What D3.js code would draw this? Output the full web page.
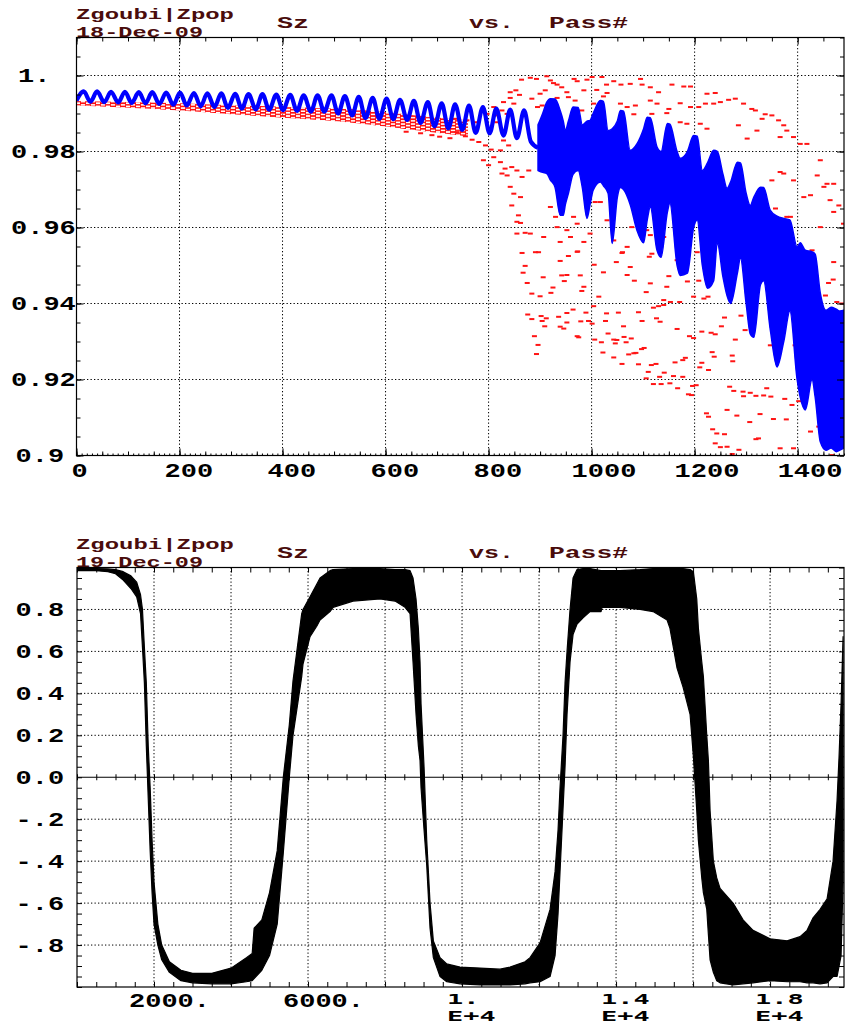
<!DOCTYPE html>
<html>
<head>
<meta charset="utf-8">
<script src="https://cdn.jsdelivr.net/npm/d3@7"></script>
<style>
  html, body { margin: 0; padding: 0; background: #fff; }
  svg { display: block; }
  text { font-family: "Liberation Mono", "Courier New", monospace; font-weight: bold; }
  text.stack { font-family: "DejaVu Sans Mono", "Liberation Mono", monospace; }
</style>
</head>
<body>
<svg id="chart" width="845" height="1028"></svg>
<script>
// ===================== data =====================

// --- upper panel: Sz vs Pass# (passes 0 .. 1490) ---
const topXTicks = [0, 200, 400, 600, 800, 1000, 1200, 1400];
const topXLabels = ["0", "200", "400", "600", "800", "1000", "1200", "1400"];
const topYTicks = [0.9, 0.92, 0.94, 0.96, 0.98, 1.0];
const topYLabels = ["0.9", "0.92", "0.94", "0.96", "0.98", "1."];

// tracked particle: regular spin oscillation, alternating troughs and crests
const wavePass = [0, 14, 27, 40, 54, 67, 81, 94, 107, 121, 134, 147, 161, 174, 188, 201, 214, 228, 241, 254,
  268, 281, 294, 308, 321, 334, 348, 361, 374, 388, 401, 415, 428, 441, 455, 468, 481, 495, 508, 521,
  535, 548, 561, 575, 588, 602, 615, 628, 642, 655, 668, 682, 695, 709, 722, 735, 749, 762, 775, 789,
  802, 815, 829, 842, 855, 869, 882];
const waveSz = [0.9934, 0.9958, 0.9931, 0.9958, 0.9930, 0.9957, 0.9929, 0.9957, 0.9928, 0.9956, 0.9927, 0.9956,
  0.9925, 0.9955, 0.9923, 0.9955, 0.9921, 0.9954, 0.9919, 0.9953, 0.9917, 0.9953, 0.9915, 0.9952, 0.9913,
  0.9951, 0.9911, 0.9951, 0.9910, 0.9950, 0.9909, 0.9949, 0.9907, 0.9948, 0.9905, 0.9948, 0.9905, 0.9948,
  0.9900, 0.9946, 0.9895, 0.9944, 0.9888, 0.9941, 0.9886, 0.9939, 0.9885, 0.9936, 0.9883, 0.9933, 0.9875,
  0.9930, 0.9866, 0.9927, 0.9861, 0.9924, 0.9857, 0.9921, 0.9849, 0.9917, 0.9848, 0.9913, 0.9842, 0.9910,
  0.9835, 0.9908, 0.9826];

// tracked particle after the resonance: fast oscillation band (upper / lower envelope)
const bandPass = [896, 905, 913, 920, 929, 939, 945, 949, 955, 964, 974, 982, 991, 997, 1003, 1017, 1023, 1032,
  1040, 1050, 1056, 1062, 1075, 1088, 1101, 1108, 1114, 1127, 1135, 1147, 1152, 1166, 1172, 1186, 1198,
  1205, 1215, 1225, 1237, 1244, 1255, 1263, 1270, 1283, 1289, 1300, 1308, 1315, 1328, 1334, 1347, 1360,
  1373, 1385, 1399, 1405, 1415, 1428, 1434, 1444, 1455, 1465, 1475, 1482, 1490];
const bandTop = [0.9870, 0.9900, 0.9930, 0.9939, 0.9938, 0.9908, 0.9880, 0.9855, 0.9880, 0.9917, 0.9916, 0.9870,
  0.9880, 0.9882, 0.9900, 0.9934, 0.9932, 0.9855, 0.9860, 0.9880, 0.9908, 0.9906, 0.9803, 0.9820, 0.9860,
  0.9890, 0.9889, 0.9812, 0.9800, 0.9874, 0.9872, 0.9800, 0.9782, 0.9800, 0.9842, 0.9840, 0.9750, 0.9770,
  0.9803, 0.9800, 0.9740, 0.9703, 0.9720, 0.9772, 0.9770, 0.9690, 0.9658, 0.9680, 0.9706, 0.9705, 0.9645,
  0.9630, 0.9624, 0.9620, 0.9549, 0.9560, 0.9540, 0.9536, 0.9530, 0.9427, 0.9382, 0.9390, 0.9385, 0.9380,
  0.9382];
const bandBottom = [0.9750, 0.9745, 0.9742, 0.9725, 0.9706, 0.9632, 0.9632, 0.9660, 0.9690, 0.9740, 0.9750, 0.9705,
  0.9624, 0.9660, 0.9698, 0.9720, 0.9710, 0.9690, 0.9558, 0.9680, 0.9705, 0.9700, 0.9660, 0.9593, 0.9560,
  0.9620, 0.9654, 0.9540, 0.9522, 0.9640, 0.9664, 0.9500, 0.9474, 0.9480, 0.9600, 0.9620, 0.9500, 0.9440,
  0.9460, 0.9560, 0.9470, 0.9420, 0.9400, 0.9480, 0.9520, 0.9400, 0.9320, 0.9311, 0.9450, 0.9460, 0.9330,
  0.9233, 0.9300, 0.9380, 0.9200, 0.9154, 0.9120, 0.9200, 0.9154, 0.9036, 0.9014, 0.9020, 0.9010, 0.9014,
  0.9020];

// particle ensemble: dense band of samples while the beam stays coherent
const cloudPass = [0, 100, 200, 300, 400, 480, 540, 600, 660, 720, 760];
const cloudTop = [0.9933, 0.9930, 0.9927, 0.9922, 0.9918, 0.9914, 0.9911, 0.9903, 0.9895, 0.9887, 0.9882];
const cloudBottom = [0.9921, 0.9915, 0.9908, 0.9898, 0.9889, 0.9882, 0.9875, 0.9866, 0.9856, 0.9846, 0.9840];

// particle ensemble: individual samples [pass, Sz] once the beam decoheres
const ensemble = [
  [864,.9989],[881,.9994],[893,.9991],[913,.9998],[920,.9987],[926,.9980],[933,.9976],[942,.9969],[952,.9956],
  [966,.9991],[972,.9985],[991,.9989],[1001,.9996],[1020,.9996],[1029,.9976],[1043,.9985],[1057,.9976],
  [1075,.9978],[1095,.9991],[1098,.9976],[1114,.9969],[1130,.9956],[1156,.9976],[1179,.9971],[1192,.9971],
  [1224,.9952],[1240,.9954],[853,.9961],[842,.9956],[860,.9949],[900,.9952],[910,.9961],[985,.9961],
  [1010,.9962],[1030,.9954],[829,.9930],[842,.9941],
  [810,.9917],[826,.9908],[836,.9899],[849,.9926],[884,.9939],[904,.9921],[895,.9917],[933,.9941],[955,.9943],
  [968,.9934],[981,.9908],[1004,.9926],[1023,.9945],[1056,.9926],[1069,.9917],[1085,.9921],[1114,.9934],
  [1127,.9926],[1150,.9912],[1172,.9927],[1192,.9917],[1208,.9917],[1221,.9926],[1237,.9926],[1250,.9930],
  [1266,.9936],[1279,.9939],[1295,.9926],[1311,.9912],[1318,.9908],[1331,.9886],[1337,.9898],[1350,.9895],
  [1363,.9882],[1373,.9869],[1117,.9899],[1082,.9898],[1146,.9901],[1172,.9877],[1185,.9873],[1211,.9873],
  [1224,.9860],[1285,.9869],[1302,.9834],[1321,.9855],[1366,.9838],[1379,.9855],[1392,.9838],[1405,.9820],
  [1418,.9820],[1444,.9777],[1438,.9737],[1457,.9715],[1451,.9707],[1470,.9715],[1480,.9658],[1470,.9641],
  [1489,.9610],
  [810,.9785],[823,.9772],[832,.9755],[845,.9759],[855,.9750],[865,.9733],[878,.9750],[826,.9742],[836,.9737],
  [842,.9707],[849,.9689],[845,.9658],[862,.9680],[858,.9632],[855,.9615],[862,.9612],[855,.9584],[871,.9586],
  [881,.9584],[865,.9533],[891,.9535],[897,.9535],[907,.9575],[920,.9654],[930,.9628],[933,.9601],[952,.9593],
  [965,.9628],[972,.9610],[939,.9562],[959,.9575],[972,.9536],[985,.9562],[997,.9584],[1007,.9667],
  [1017,.9667],[1030,.9619],[1043,.9566],[1059,.9533],[1069,.9549],[1078,.9601],[1088,.9654],[1101,.9628],
  [1107,.9593],[1114,.9580],[1140,.9575],[1120,.9785],[1127,.9772],[1140,.9790],[1153,.9768],[1166,.9750],
  [1179,.9759],[1192,.9764],[1205,.9750],[1208,.9707],[1218,.9693],[1237,.9737],[1237,.9707],[1250,.9698],
  [1253,.9610],[1256,.9597],[1273,.9628],[1279,.9593],[1295,.9523],[1328,.9531],[1357,.9650],[1350,.9724],
  [1366,.9746],[1373,.9742],[1379,.9628],[1386,.9628],[1392,.9724],[1412,.9680],[1425,.9685],[1444,.9601],
  [1463,.9672],[1428,.9540],[1470,.9509],
  [955,.9525],[973,.9537],[939,.9512],[871,.9499],[867,.9481],[875,.9454],[906,.9469],[942,.9474],[952,.9475],
  [978,.9474],[947,.9459],[925,.9442],[921,.9428],[884,.9426],[900,.9419],[985,.9444],[981,.9433],
  [1005,.9502],[1023,.9482],[1048,.9509],[1060,.9535],[1075,.9496],[1069,.9475],[1083,.9460],[1112,.9523],
  [1117,.9531],[1114,.9453],[1106,.9430],[1140,.9409],[1153,.9404],[1171,.9404],[1146,.9444],[1150,.9472],
  [1166,.9514],[1186,.9458],[1205,.9535],[1208,.9460],[1198,.9418],[1218,.9413],[1226,.9418],
  [876,.9371],[884,.9359],[902,.9367],[912,.9361],[904,.9354],[909,.9340],[936,.9365],[952,.9375],[964,.9384],
  [989,.9376],[994,.9354],[979,.9353],[952,.9350],[939,.9339],[946,.9334],[889,.9314],[896,.9291],[893,.9267],
  [972,.9314],[975,.9311],[1004,.9393],[1001,.9347],[1006,.9305],[1014,.9418],[1029,.9374],[1027,.9354],
  [1032,.9321],[1019,.9298],[1022,.9271],[1043,.9305],[1049,.9304],[1046,.9295],[1063,.9312],[1067,.9298],
  [1077,.9308],[1052,.9376],[1062,.9340],[1091,.9377],[1098,.9354],[1133,.9352],[1126,.9361],[1120,.9389],
  [1130,.9393],[1140,.9396],[1166,.9333],[1190,.9314],[1198,.9309],[1214,.9326],[1232,.9323],[1240,.9319],
  [1043,.9258],[1059,.9241],[1072,.9266],[1082,.9269],[1086,.9270],[1097,.9280],[1102,.9283],[1091,.9240],
  [1116,.9238],[1125,.9241],[1141,.9218],[1110,.9220],[1106,.9203],[1120,.9188],[1135,.9188],[1132,.9207],
  [1152,.9190],[1159,.9209],[1177,.9207],[1162,.9245],[1177,.9251],[1182,.9257],[1167,.9177],[1188,.9161],
  [1194,.9159],[1196,.9183],[1203,.9185],[1210,.9232],[1214,.9244],[1227,.9225],[1234,.9272],[1238,.9260],
  [1252,.9340],[1258,.9363],[1273,.9263],[1274,.9248],[1279,.9305],[1290,.9368],[1298,.9330],[1268,.9181],
  [1276,.9170],[1294,.9168],[1295,.9156],[1308,.9165],[1319,.9157],[1334,.9158],[1348,.9155],[1340,.9177],
  [1327,.9109],[1307,.9088],[1282,.9105],[1263,.9120],[1223,.9111],[1227,.9102],[1235,.9069],[1243,.9058],
  [1258,.9056],[1240,.9032],[1250,.9022],[1263,.9023],[1273,.9004],[1286,.9015],[1319,.9043],[1324,.9045],
  [1353,.9096],[1378,.9095],[1366,.9019],[1392,.9019],[1375,.9149],[1389,.9133],[1402,.9143],[1425,.9063],
  [1441,.9076],[1460,.9023],[1467,.9001],[1347,.9290],[1363,.9333],[1395,.9290],[1454,.9421],[1460,.9454],
  [1469,.9463],[1476,.9404],[1486,.9400],
  [739,.9851],[755,.9840],[768,.9831],[781,.9825],[794,.9816],[805,.9805],[735,.9886],[758,.9882],[777,.9877],
  [797,.9899],[813,.9895],[816,.9877],[829,.9829],[839,.9816],[823,.9803],[790,.9777],[800,.9764],
  [640,.9852],[668,.9848],[690,.9843],[705,.9839],[725,.9835]
];

// --- lower panel: Sz vs Pass# (passes 0 .. 19920), spin flips ---
const botXTicks = [2000, 6000, 10000, 14000, 18000];
const botXLabels = [["2000."], ["6000."], ["1.", "E+4"], ["1.4", "E+4"], ["1.8", "E+4"]];
const botYTicks = [-0.8, -0.6, -0.4, -0.2, 0.0, 0.2, 0.4, 0.6, 0.8];
const botYLabels = ["-.8", "-.6", "-.4", "-.2", "0.0", "0.2", "0.4", "0.6", "0.8"];

// envelope of the fast oscillation: pass, highest Sz, lowest Sz
const flipPass = [0, 500, 800, 1000, 1200, 1400, 1550, 1650, 1700, 1750, 1800, 1850, 1900, 1950, 2000, 2100,
  2200, 2400, 2700, 3000, 3500, 4000, 4400, 4550, 4600, 4800, 5000, 5200, 5358, 5514, 5610, 5836, 5870,
  6052, 6226, 6312, 6571, 6650, 7170, 7870, 8260, 8520, 8650, 8727, 8805, 8865, 8909, 8935, 9013, 9083,
  9169, 9255, 9429, 9603, 9948, 10468, 10987, 11247, 11636, 11766, 12026, 12286, 12416, 12494, 12545,
  12623, 12675, 12727, 12805, 12883, 12987, 13143, 13325, 13610, 13636, 14104, 14623, 14961, 15325, 15400,
  15584, 15740, 15922, 16008, 16096, 16138, 16226, 16268, 16356, 16398, 16442, 16527, 16615, 16701, 17039,
  17299, 17558, 18000, 18442, 18779, 18961, 19117, 19299, 19481, 19636, 19740, 19792, 19844, 19896];
const flipHigh = [0.995, 0.995, 0.993, 0.990, 0.980, 0.960, 0.930, 0.870, 0.800, 0.620, 0.450, 0.150, -0.050,
  -0.300, -0.500, -0.700, -0.800, -0.880, -0.920, -0.935, -0.935, -0.910, -0.860, -0.840, -0.720, -0.680,
  -0.550, -0.350, 0.000, 0.250, 0.460, 0.780, 0.800, 0.860, 0.920, 0.950, 0.985, 0.990, 0.995, 0.995,
  0.990, 0.990, 0.985, 0.950, 0.850, 0.710, 0.550, 0.350, 0.050, -0.300, -0.600, -0.780, -0.860, -0.890,
  -0.905, -0.910, -0.915, -0.905, -0.880, -0.860, -0.790, -0.630, -0.450, -0.250, -0.050, 0.200, 0.450,
  0.600, 0.800, 0.950, 0.990, 0.995, 0.995, 0.985, 0.985, 0.985, 0.990, 0.995, 0.995, 0.995, 0.995, 0.995,
  0.990, 0.980, 0.850, 0.710, 0.550, 0.480, 0.200, 0.080, -0.160, -0.400, -0.480, -0.530, -0.600, -0.680,
  -0.730, -0.770, -0.780, -0.760, -0.730, -0.670, -0.630, -0.580, -0.400, -0.110, 0.100, 0.350, 0.670];
const flipLow = [0.985, 0.985, 0.980, 0.970, 0.940, 0.900, 0.860, 0.780, 0.620, 0.450, 0.150, -0.100, -0.350,
  -0.550, -0.700, -0.800, -0.870, -0.930, -0.970, -0.980, -0.985, -0.985, -0.975, -0.970, -0.960, -0.920,
  -0.850, -0.700, -0.360, 0.000, 0.200, 0.480, 0.540, 0.670, 0.720, 0.750, 0.790, 0.810, 0.840, 0.850,
  0.840, 0.810, 0.780, 0.550, 0.300, 0.150, 0.080, -0.050, -0.250, -0.420, -0.720, -0.860, -0.950, -0.975,
  -0.985, -0.990, -0.990, -0.990, -0.985, -0.980, -0.975, -0.950, -0.850, -0.650, -0.450, -0.150, 0.050,
  0.300, 0.550, 0.680, 0.730, 0.760, 0.790, 0.790, 0.810, 0.810, 0.800, 0.790, 0.750, 0.710, 0.520, 0.430,
  0.300, 0.100, -0.160, -0.300, -0.480, -0.550, -0.630, -0.750, -0.870, -0.930, -0.970, -0.980, -0.990,
  -0.985, -0.980, -0.970, -0.975, -0.975, -0.980, -0.980, -0.985, -0.980, -0.950, -0.950, -0.900, -0.850,
  -0.500];

// ===================== drawing =====================
const svg = d3.select("#chart");
const headColor = "#4a0c0c";

const TP = { left: 76.5, right: 844, top: 37.5, bottom: 455.5 };
const BP = { left: 77, right: 844, top: 567.5, bottom: 987 };

const xT = d3.scaleLinear().domain([0, 1490]).range([TP.left, TP.right]);
const yT = d3.scaleLinear().domain([0.9, 1.01]).range([TP.bottom, TP.top]);
const xB = d3.scaleLinear().domain([0, 19920]).range([BP.left, BP.right]);
const yB = d3.scaleLinear().domain([-1, 1]).range([BP.bottom, BP.top]);

const defs = svg.append("defs");
[["clipTop", TP], ["clipBot", BP]].forEach(([id, P]) => {
  defs.append("clipPath").attr("id", id).append("rect")
    .attr("x", P.left).attr("y", P.top).attr("width", P.right - P.left).attr("height", P.bottom - P.top);
});
const pat = defs.append("pattern").attr("id", "redDashes").attr("patternUnits", "userSpaceOnUse")
  .attr("width", 10).attr("height", 3.2);
pat.append("rect").attr("x", 0).attr("y", 0).attr("width", 6).attr("height", 1.7).attr("fill", "#ff1010");
pat.append("rect").attr("x", 5).attr("y", 1.6).attr("width", 6).attr("height", 1.6).attr("fill", "#ff2a2a");
pat.append("rect").attr("x", -5).attr("y", 1.6).attr("width", 6).attr("height", 1.6).attr("fill", "#ff2a2a");

function putText(g, x, y, str, size, width, color) {
  return g.append("text").attr("x", x).attr("y", y).attr("font-size", size)
    .attr("fill", color).attr("textLength", width).attr("lengthAdjust", "spacingAndGlyphs").text(str);
}

function header(g, P, date) {
  putText(g, 76, P.top - 18.2, "Zgoubi|Zpop", 15.5, 158, headColor);
  putText(g, 76, P.top - 0.5, date, 15.5, 127, headColor);
  putText(g, 277, P.top - 10, "Sz", 16.5, 32, headColor);
  putText(g, 469, P.top - 10, "vs.", 16.5, 45, headColor);
  putText(g, 549, P.top - 10, "Pass#", 16.5, 79, headColor);
}

function tickRow(g, axisFn, scale, values, size, tx, ty) {
  g.append("g").attr("transform", `translate(${tx},${ty})`).attr("color", "#000")
    .call(axisFn(scale).tickValues(values).tickSize(size).tickSizeOuter(0).tickFormat(""))
    .call(s => s.select(".domain").remove());
}

function frame(g, P) {
  g.append("rect").attr("x", P.left).attr("y", P.top).attr("width", P.right - P.left)
    .attr("height", P.bottom - P.top).attr("fill", "none").attr("stroke", "#000").attr("stroke-width", 1.2);
}

function grid(g, P, xs, ys, xScale, yScale) {
  const gg = g.append("g").attr("stroke", "#000").attr("stroke-width", 1).attr("stroke-dasharray", "1.3,2.2");
  xs.forEach(v => gg.append("line").attr("x1", xScale(v)).attr("x2", xScale(v)).attr("y1", P.top).attr("y2", P.bottom));
  ys.forEach(v => gg.append("line").attr("y1", yScale(v)).attr("y2", yScale(v)).attr("x1", P.left).attr("x2", P.right));
}

// ---------- upper panel ----------
const gT = svg.append("g");
header(gT, TP, "18-Dec-09");
grid(gT, TP, topXTicks.slice(1), topYTicks.slice(1, 5).concat([1.0]), xT, yT);

const dataT = gT.append("g").attr("clip-path", "url(#clipTop)");

// ensemble cloud while coherent
dataT.append("path")
  .datum(cloudPass.map((p, i) => [p, cloudTop[i], cloudBottom[i]]))
  .attr("fill", "url(#redDashes)")
  .attr("d", d3.area().x(d => xT(d[0])).y0(d => yT(d[2])).y1(d => yT(d[1])).curve(d3.curveMonotoneX));

// ensemble samples once spread
dataT.append("g").selectAll("rect").data(ensemble).join("rect")
  .attr("x", d => xT(d[0]) - 2.5).attr("y", d => yT(d[1]) - 1)
  .attr("width", 5).attr("height", 2).attr("fill", "#ff1414");

// tracked particle: regular oscillation
dataT.append("path")
  .datum(wavePass.map((p, i) => [p, waveSz[i]]).concat([[bandPass[0], (bandTop[0] + bandBottom[0]) / 2]]))
  .attr("fill", "none").attr("stroke", "#0000ff").attr("stroke-width", 4.2).attr("stroke-linejoin", "round")
  .attr("d", d3.line().x(d => xT(d[0])).y(d => yT(d[1])).curve(d3.curveMonotoneX));

// tracked particle: fast oscillation band
dataT.append("path")
  .datum(bandPass.map((p, i) => [p, bandTop[i], bandBottom[i]]))
  .attr("fill", "#0000ff").attr("stroke", "#0000ff").attr("stroke-width", 1.5).attr("stroke-linejoin", "round")
  .attr("d", d3.area().x(d => xT(d[0])).y0(d => yT(d[2])).y1(d => yT(d[1])).curve(d3.curveMonotoneX));

frame(gT, TP);
// ticks (inward)
tickRow(gT, d3.axisBottom, xT, d3.range(0, 1491, 50), 4, 0, TP.top);
tickRow(gT, d3.axisBottom, xT, topXTicks, 7, 0, TP.top);
tickRow(gT, d3.axisTop, xT, d3.range(0, 1491, 10), 2, 0, TP.bottom);
tickRow(gT, d3.axisTop, xT, d3.range(0, 1491, 50), 4, 0, TP.bottom);
tickRow(gT, d3.axisTop, xT, topXTicks, 7, 0, TP.bottom);
const topYMinor = d3.range(0, 23).map(i => 0.9 + i * 0.005);
tickRow(gT, d3.axisRight, yT, topYMinor, 4, TP.left, 0);
tickRow(gT, d3.axisRight, yT, topYTicks, 7, TP.left, 0);
tickRow(gT, d3.axisLeft, yT, topYMinor, 4, TP.right, 0);
tickRow(gT, d3.axisLeft, yT, topYTicks, 7, TP.right, 0);

// tick labels
const CW = 16.2;
topXTicks.forEach((v, i) => {
  const s = topXLabels[i];
  putText(gT, xT(v) - 5 * s.length, 477, s, 21, CW * s.length, "#000");
});
topYTicks.forEach((v, i) => {
  const s = topYLabels[i];
  const x0 = s.length >= 4 ? 11 : (s.length === 3 ? 15.5 : 18);
  putText(gT, x0, yT(v) + 6.5, s, 21, CW * s.length, "#000");
});

// ---------- lower panel ----------
const gB = svg.append("g");
header(gB, BP, "19-Dec-09");
grid(gB, BP, d3.range(2000, 19000, 2000), botYTicks.filter(v => v !== 0), xB, yB);

const dataB = gB.append("g").attr("clip-path", "url(#clipBot)");
dataB.append("path")
  .datum(flipPass.map((p, i) => [p, flipHigh[i], flipLow[i]]))
  .attr("fill", "#000").attr("stroke", "#000").attr("stroke-width", 1.2).attr("stroke-linejoin", "round")
  .attr("d", d3.area().x(d => xB(d[0])).y0(d => yB(d[2])).y1(d => yB(d[1])));

frame(gB, BP);
// zero line
gB.append("line").attr("x1", BP.left).attr("x2", BP.right).attr("y1", yB(0)).attr("y2", yB(0))
  .attr("stroke", "#000").attr("stroke-width", 1.2);
const botXMinor = d3.range(0, 19921, 500);
tickRow(gB, d3.axisBottom, xB, botXMinor, 3, 0, yB(0));
tickRow(gB, d3.axisTop, xB, botXMinor, 3, 0, yB(0));
tickRow(gB, d3.axisBottom, xB, botXMinor, 5, 0, BP.top);
tickRow(gB, d3.axisTop, xB, botXMinor, 5, 0, BP.bottom);
const botYMinor = d3.range(0, 41).map(i => -1 + i * 0.05);
tickRow(gB, d3.axisRight, yB, botYMinor, 5, BP.left, 0);
tickRow(gB, d3.axisLeft, yB, botYMinor, 5, BP.right, 0);

// x labels: single-line values full size; stacked mantissa / exponent set tighter
botXTicks.forEach((v, i) => {
  const lines = botXLabels[i];
  const n = d3.max(lines, l => l.length);
  const x0 = xB(v) - 5 * n;
  if (lines.length === 1) {
    putText(gB, x0, 1007, lines[0], 21, CW * lines[0].length, "#000");
  } else {
    putText(gB, x0, 1004.3, lines[0], 14, CW * lines[0].length, "#000").attr("class", "stack");
    putText(gB, x0, 1021.2, lines[1], 14, CW * lines[1].length, "#000").attr("class", "stack");
  }
});
botYTicks.forEach((v, i) => {
  putText(gB, 15.5, yB(v) + 6.5, botYLabels[i], 21, CW * 3, "#000");
});
</script>
</body>
</html>
